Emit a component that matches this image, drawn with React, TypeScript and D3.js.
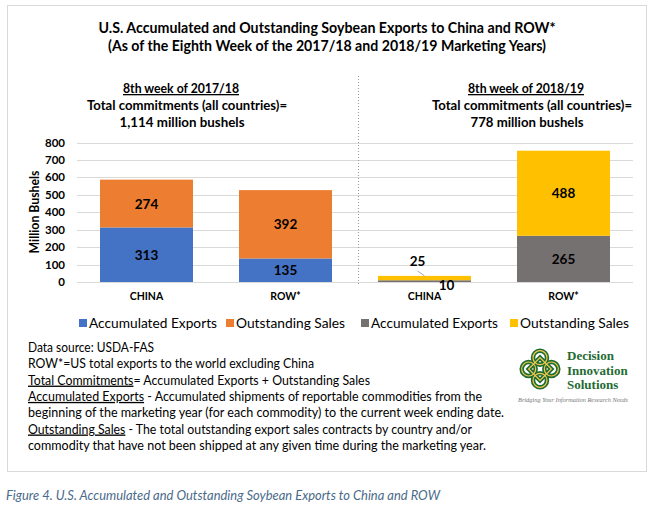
import React from 'react';
import * as d3 from 'd3';

// values (million bushels)
const categories = ['CHINA', 'ROW*', 'CHINA', 'ROW*'];
const periods = ['2017/18', '2017/18', '2018/19', '2018/19'];
const accumulated = [313, 135, 10, 265];
const outstanding = [274, 392, 25, 488];
const yTicks = [0, 100, 200, 300, 400, 500, 600, 700, 800];

const periodHeadings = [
  { week: '8th week of 2017/18', total: '1,114 million bushels' },
  { week: '8th week of 2018/19', total: '778 million bushels' }
];

const legendLabels = ['Accumulated Exports', 'Outstanding Sales', 'Accumulated Exports', 'Outstanding Sales'];

const palette: Record<string, { acc: string; out: string }> = {
  '2017/18': { acc: '#4472C4', out: '#ED7D31' },
  '2018/19': { acc: '#767171', out: '#FFC000' }
};

const notes: Array<{ lead?: string; rest: string; width: number }> = [
  { rest: 'Data source: USDA-FAS', width: 126 },
  { rest: 'ROW*=US total exports to the world excluding China', width: 286 },
  { lead: 'Total Commitments', rest: '= Accumulated Exports + Outstanding Sales', width: 342 },
  { lead: 'Accumulated Exports', rest: ' - Accumulated shipments of reportable commodities from the', width: 454 },
  { rest: 'beginning of the marketing year (for each commodity) to the current week ending date.', width: 476 },
  { lead: 'Outstanding Sales', rest: ' - The total outstanding export sales contracts by country and/or', width: 444 },
  { rest: 'commodity that have not been shipped at any given time during the marketing year.', width: 458 }
];

const FONT = 'Lato, "Open Sans", sans-serif';

const W = 652;
const H = 507;

const App: React.FC = () => {
  const keys = categories.map((c, i) => `${c}-${periods[i]}`);
  const x = d3.scaleBand<string>().domain(keys).range([77, 633]).paddingInner(0.331).paddingOuter(0.1655);
  const y = d3.scaleLinear().domain([0, 800]).range([282, 142.5]);
  const bw = x.bandwidth();

  const stacked = keys.map((k, i) => {
    const p = palette[periods[i]];
    const x0 = x(k) ?? 0;
    return {
      k, x0, cx: x0 + bw / 2, cat: categories[i],
      segs: [
        { v: accumulated[i], y0: 0, y1: accumulated[i], color: p.acc, which: 'acc' },
        { v: outstanding[i], y0: accumulated[i], y1: accumulated[i] + outstanding[i], color: p.out, which: 'out' }
      ]
    };
  });

  const headingCenters = [184, 529];
  const legendColors = [palette['2017/18'].acc, palette['2017/18'].out, palette['2018/19'].acc, palette['2018/19'].out];
  const legendX = [79, 226, 361, 510];
  const legendWidths = [128, 109, 127, 109];

  return (
    <svg width={W} height={H} style={{ position: 'absolute', left: 0, top: 0, background: '#fff' }} fontFamily={FONT}>
      <rect x={7.5} y={5.5} width={639} height={466} fill="#fff" stroke="#d9d9d9" />

      {/* title */}
      <text x={327} y={33} textAnchor="middle" fontSize={15} fontWeight={700} textLength={457} lengthAdjust="spacingAndGlyphs">
        U.S. Accumulated and Outstanding Soybean Exports to China and ROW*
      </text>
      <text x={327} y={51} textAnchor="middle" fontSize={15} fontWeight={700} textLength={438} lengthAdjust="spacingAndGlyphs">
        (As of the Eighth Week of the 2017/18 and 2018/19 Marketing Years)
      </text>

      {periodHeadings.map((h, i) => (
        <g key={h.week} fontSize={13} fontWeight={700}>
          <text x={headingCenters[i] - 3} y={93} textAnchor="middle" textDecoration="underline" textLength={116} lengthAdjust="spacingAndGlyphs">{h.week}</text>
          <text x={headingCenters[i] + 3} y={110} textAnchor="middle" textLength={200} lengthAdjust="spacingAndGlyphs">Total commitments (all countries)=</text>
          <text x={headingCenters[i] - 2} y={127} textAnchor="middle" textLength={i === 0 ? 125 : 113} lengthAdjust="spacingAndGlyphs">{h.total}</text>
        </g>
      ))}

      {/* gridlines */}
      {yTicks.map(t => (
        <line key={t} x1={77} x2={633} y1={Math.round(y(t)) + 0.5} y2={Math.round(y(t)) + 0.5} stroke="#d9d9d9" strokeWidth={1} />
      ))}
      {yTicks.map(t => (
        <text key={`l${t}`} x={65} y={y(t) + 4} textAnchor="end" fontSize={11.5} fontWeight={700}>{t}</text>
      ))}
      <text transform={`translate(39,212) rotate(-90)`} textAnchor="middle" fontSize={12.5} fontWeight={700} textLength={83} lengthAdjust="spacingAndGlyphs">Million Bushels</text>

      {/* divider between marketing years */}
      <line x1={358.5} x2={358.5} y1={76} y2={284} stroke="#9a9a9a" strokeDasharray="1,2" />

      {/* bars */}
      {stacked.map(b => (
        <g key={b.k}>
          {b.segs.map(s => (
            <rect key={s.which} x={b.x0} width={bw} y={y(s.y1)} height={y(s.y0) - y(s.y1)} fill={s.color} />
          ))}
          <text x={b.cx} y={300} textAnchor="middle" fontSize={10.5} fontWeight={700}>{b.cat}</text>
          {b.segs.map(s => {
            const hgt = y(s.y0) - y(s.y1);
            if (hgt >= 14) {
              return (
                <text key={`t${s.which}`} x={b.cx} y={y((s.y0 + s.y1) / 2) + 5} textAnchor="middle" fontSize={13.5} fontWeight={700}>{s.v}</text>
              );
            }
            // thin segments: labels pulled outside the bar
            if (s.which === 'out') {
              const top = y(s.y1);
              return (
                <g key={`t${s.which}`}>
                  <text x={b.cx - 7} y={top - 10} textAnchor="middle" fontSize={13.5} fontWeight={700}>{s.v}</text>
                  <line x1={b.cx - 7} y1={top - 5} x2={b.cx} y2={top} stroke="#a6a6a6" />
                </g>
              );
            }
            return (
              <text key={`t${s.which}`} x={b.cx + 22} y={y(s.y0) + 8} textAnchor="middle" fontSize={13.5} fontWeight={700}>{s.v}</text>
            );
          })}
        </g>
      ))}

      {/* legend */}
      {legendLabels.map((l, i) => (
        <g key={i}>
          <rect x={legendX[i]} y={319} width={8} height={8} fill={legendColors[i]} />
          <text x={legendX[i] + 10} y={328} fontSize={14} textLength={legendWidths[i]} lengthAdjust="spacingAndGlyphs">{l}</text>
        </g>
      ))}

      {/* notes */}
      {notes.map((n, i) => (
        <text key={i} x={28} y={352 + i * 16.3} fontSize={13.3} textLength={n.width} lengthAdjust="spacingAndGlyphs">
          {n.lead ? <tspan textDecoration="underline">{n.lead}</tspan> : null}
          <tspan>{n.rest}</tspan>
        </text>
      ))}

      {/* logo */}
      <g transform="translate(540,369) rotate(45)" fill="none">
        {[[-8, -8], [8, -8], [-8, 8], [8, 8]].map(([dx, dy], i) => (
          <circle key={`g${i}`} cx={dx} cy={dy} r={7} stroke="#1f6b33" strokeWidth={4.5} />
        ))}
        <rect x={-8} y={-8} width={16} height={16} stroke="#1f6b33" strokeWidth={4.5} />
        {[[-8, -8], [8, -8], [-8, 8], [8, 8]].map(([dx, dy], i) => (
          <circle key={`y${i}`} cx={dx} cy={dy} r={7} stroke="#f2c94c" strokeWidth={1.2} />
        ))}
        <rect x={-8} y={-8} width={16} height={16} stroke="#f2c94c" strokeWidth={1.2} />
      </g>
      <g fontFamily='"Liberation Serif", "DejaVu Serif", serif' fontWeight={700} fontSize={13} fill="#1f6b33">
        <text x={567} y={360}>Decision</text>
        <text x={567} y={375}>Innovation</text>
        <text x={567} y={389}>Solutions</text>
      </g>
      <text x={518} y={402} fontFamily='"Liberation Serif", serif' fontStyle="italic" fontSize={6} fill="#777" textLength={110} lengthAdjust="spacingAndGlyphs">
        Bridging Your Information Research Needs
      </text>

      {/* caption */}
      <text x={6} y={500} fontSize={12.5} fontStyle="italic" fill="#4a6a8a" textLength={434} lengthAdjust="spacingAndGlyphs">
        Figure 4. U.S. Accumulated and Outstanding Soybean Exports to China and ROW
      </text>
    </svg>
  );
};

export default App;
